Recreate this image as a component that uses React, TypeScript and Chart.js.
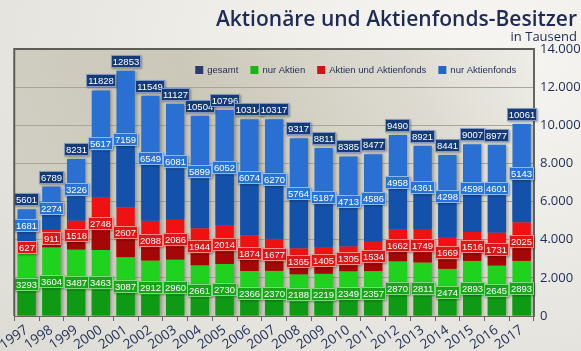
import React, { useEffect, useRef } from "react";
import { Chart, registerables } from "chart.js";

Chart.register(...registerables);

const years = ["1997","1998","1999","2000","2001","2002","2003","2004","2005","2006","2007","2008","2009","2010","2011","2012","2013","2014","2015","2016","2017"];
const nurAktien = [3293,3604,3487,3463,3087,2912,2960,2661,2730,2366,2370,2188,2219,2349,2357,2870,2811,2474,2893,2645,2893];
const aktienUndFonds = [627,911,1518,2748,2607,2088,2086,1944,2014,1874,1677,1365,1405,1305,1534,1662,1749,1669,1516,1731,2025];
const nurFonds = [1681,2274,3226,5617,7159,6549,6081,5899,6052,6074,6270,5764,5187,4713,4586,4958,4361,4298,4598,4601,5143];
const gesamt = [5601,6789,8231,11828,12853,11549,11127,10504,10796,10314,10317,9317,8811,8385,8477,9490,8921,8441,9007,8977,10061];
const yTicks = [0,2000,4000,6000,8000,10000,12000,14000];
const legendLabels = ["gesamt","nur Aktien","Aktien und Aktienfonds","nur Aktienfonds"];

const TITLE = "Aktionäre und Aktienfonds-Besitzer";
const SUBTITLE = "in Tausend";
const NAVY_TEXT = "#1d2b55";
const FONT = '"Open Sans", "Liberation Sans", sans-serif';
const NARROW = '"Liberation Sans", Arial, sans-serif';

const lightColors = ["#1ed21e", "#f01212", "#2a70d2"];
const darkColors = ["#0f9a16", "#a50606", "#1451aa"];
const labelFill = ["#1aa41a", "#e01616", "#2874d6", "#143a78"];
const labelStroke = ["#7fda7f", "#ff8a8a", "#8fbaf0", "#7f98c4"];
const legendColors = ["#2c3a72", "#14b814", "#d61010", "#2066cc"];

const fmt = (v: number) => String(v).replace(/\B(?=(\d{3})+(?!\d))/g, ".");

function labelBox(ctx: CanvasRenderingContext2D, text: string, cx: number, cy: number, fill: string, stroke: string) {
  ctx.font = `9.5px ${NARROW}`;
  const w = Math.round(ctx.measureText(text).width + 4);
  const h = 13;
  const x0 = Math.round(cx - w / 2);
  const y0 = Math.round(cy - h / 2);
  ctx.save();
  ctx.shadowColor = "rgba(0,0,0,0.35)";
  ctx.shadowBlur = 2;
  ctx.shadowOffsetX = 1;
  ctx.shadowOffsetY = 1;
  ctx.fillStyle = fill;
  ctx.fillRect(x0, y0, w, h);
  ctx.restore();
  ctx.strokeStyle = stroke;
  ctx.lineWidth = 1;
  ctx.strokeRect(x0 + 0.5, y0 + 0.5, w - 1, h - 1);
  ctx.fillStyle = "#ffffff";
  ctx.textAlign = "center";
  ctx.textBaseline = "middle";
  ctx.fillText(text, x0 + w / 2, y0 + h / 2 + 0.5);
}

const decor = {
  id: "decor",
  beforeDraw(chart: any) {
    const { ctx, chartArea: a } = chart;
    ctx.save();
    const g = ctx.createLinearGradient(a.left, a.bottom, a.right, a.top);
    g.addColorStop(0, "#d3d1c7");
    g.addColorStop(0.45, "#cbc8b9");
    g.addColorStop(0.8, "#dedcd2");
    g.addColorStop(1, "#eeede7");
    ctx.fillStyle = g;
    ctx.fillRect(a.left, a.top, a.right - a.left, a.bottom - a.top);
    ctx.restore();
  },
  beforeDatasetsDraw(chart: any) {
    const { ctx } = chart;
    ctx.save();
    ctx.shadowColor = "rgba(40,40,30,0.35)";
    ctx.shadowBlur = 3;
    ctx.shadowOffsetX = 2;
    ctx.shadowOffsetY = 0;
  },
  afterDatasetsDraw(chart: any) {
    const { ctx } = chart;
    ctx.restore();
    chart.data.datasets.forEach((_ds: any, i: number) => {
      const meta = chart.getDatasetMeta(i);
      meta.data.forEach((el: any) => {
        const { x, y, base, width } = el.getProps(["x", "y", "base", "width"], true);
        const mid = (y + base) / 2;
        const split = Math.min(base, mid + 7);
        ctx.fillStyle = darkColors[i];
        ctx.fillRect(x - width / 2, split, width, base - split);
      });
    });
    chart.data.datasets.forEach((ds: any, i: number) => {
      const meta = chart.getDatasetMeta(i);
      meta.data.forEach((el: any, j: number) => {
        const { x, y, base } = el.getProps(["x", "y", "base"], true);
        labelBox(ctx, String(ds.data[j]), x, (y + base) / 2, labelFill[i], labelStroke[i]);
      });
    });
    const topMeta = chart.getDatasetMeta(chart.data.datasets.length - 1);
    topMeta.data.forEach((el: any, j: number) => {
      const { x, y } = el.getProps(["x", "y"], true);
      labelBox(ctx, String(gesamt[j]), x, y - 3 - 6.5, labelFill[3], labelStroke[3]);
    });
  },
  afterDraw(chart: any) {
    const { ctx, chartArea: a } = chart;
    ctx.save();
    ctx.strokeStyle = "#5d5d58";
    ctx.lineWidth = 2;
    ctx.beginPath();
    ctx.moveTo(a.left, a.bottom);
    ctx.lineTo(a.left, a.top);
    ctx.lineTo(a.right, a.top);
    ctx.stroke();
    ctx.fillStyle = NAVY_TEXT;
    ctx.textAlign = "right";
    ctx.textBaseline = "alphabetic";
    ctx.font = `600 21px ${FONT}`;
    ctx.fillText(TITLE, 577, 26);
    ctx.font = `13px ${FONT}`;
    ctx.fillText(SUBTITLE, 577, 41);
    ctx.font = `9.5px ${NARROW}`;
    ctx.textAlign = "left";
    ctx.textBaseline = "middle";
    let lx = a.left + 181;
    const ly = 70;
    legendLabels.forEach((t, i) => {
      ctx.fillStyle = legendColors[i];
      ctx.fillRect(lx, ly - 4, 8, 8);
      ctx.fillStyle = NAVY_TEXT;
      ctx.fillText(t, lx + 12, ly);
      lx += 12 + ctx.measureText(t).width + 12;
    });
    ctx.restore();
  },
};

export default function App() {
  const ref = useRef<HTMLCanvasElement | null>(null);
  useEffect(() => {
    document.body.style.margin = "0";
    if (!ref.current) return;
    const chart = new Chart(ref.current, {
      type: "bar",
      data: {
        labels: years,
        datasets: [
          { label: "nur Aktien", data: nurAktien, backgroundColor: lightColors[0], borderWidth: 0 },
          { label: "Aktien und Aktienfonds", data: aktienUndFonds, backgroundColor: lightColors[1], borderWidth: 0 },
          { label: "nur Aktienfonds", data: nurFonds, backgroundColor: lightColors[2], borderWidth: 0 },
        ],
      },
      options: {
        responsive: false,
        animation: false,
        layout: { padding: { left: 14, top: 49, right: 0, bottom: 0 } },
        datasets: { bar: { barPercentage: 0.74, categoryPercentage: 1 } },
        plugins: { legend: { display: false }, tooltip: { enabled: false }, title: { display: false } },
        scales: {
          x: {
            stacked: true,
            afterFit: (s: any) => { s.height = 35; },
            grid: { offset: true, drawOnChartArea: false, drawTicks: true, tickLength: 5, color: "#666660" },
            border: { display: true, color: "#666660", width: 1 },
            ticks: {
              autoSkip: false,
              maxRotation: 35,
              minRotation: 35,
              padding: 1,
              color: NAVY_TEXT,
              font: { family: FONT, size: 13.5 },
            },
          },
          y: {
            stacked: true,
            position: "right",
            min: 0,
            max: 14000,
            afterFit: (s: any) => { s.width = 47; },
            afterBuildTicks: (s: any) => { s.ticks = yTicks.map((v) => ({ value: v })); },
            grid: { color: "#a9a696", lineWidth: 1, drawTicks: false },
            border: { display: true, color: "#666660", width: 2 },
            ticks: {
              padding: 6,
              color: NAVY_TEXT,
              font: { family: FONT, size: 13 },
              callback: (v: any) => fmt(Number(v)),
            },
          },
        },
      },
      plugins: [decor],
    });
    return () => chart.destroy();
  }, []);
  return (
    <div
      style={{
        width: 581,
        height: 351,
        position: "relative",
        background: "radial-gradient(ellipse at 80% 15%, #f7f6f2 0%, #ecebe6 45%, #dcdbd4 100%)",
      }}
    >
      <canvas ref={ref} width={581} height={351} style={{ display: "block" }} />
    </div>
  );
}
